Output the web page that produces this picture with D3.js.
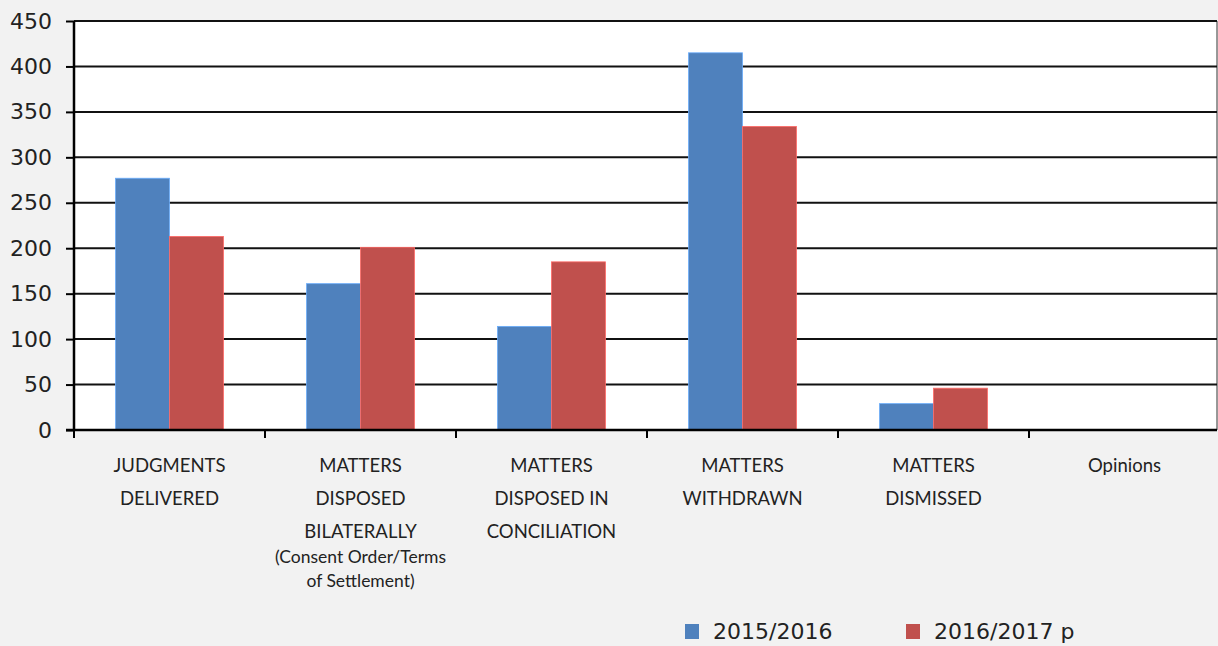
<!DOCTYPE html>
<html>
<head>
<meta charset="utf-8">
<script src="https://cdn.jsdelivr.net/npm/d3@7"></script>
<style>
  html, body { margin: 0; padding: 0; background: #f2f2f2; }
  svg { display: block; font-family: "Lato", "DejaVu Sans", sans-serif; }
</style>
</head>
<body>
<svg id="visualization"></svg>
<script>
// chart data
const categories = [
  ['JUDGMENTS', 'DELIVERED'],
  ['MATTERS', 'DISPOSED', 'BILATERALLY'],
  ['MATTERS', 'DISPOSED IN', 'CONCILIATION'],
  ['MATTERS', 'WITHDRAWN'],
  ['MATTERS', 'DISMISSED'],
  ['Opinions']
];
const subNotes = [[], ['(Consent Order/Terms', 'of Settlement)'], [], [], [], []];
const seriesNames = ['2015/2016', '2016/2017 p'];
const values2015 = [277, 161, 114, 415, 29, 0];
const values2016 = [213, 201, 185, 334, 46, 0];
const yTicks = [0, 50, 100, 150, 200, 250, 300, 350, 400, 450];
const colors = ['#4f81bd', '#c0504d'];

const width = 1218;
const height = 646;
const margin = { top: 21, right: 1, bottom: 216, left: 74 };

const svg = d3.select('#visualization')
  .attr('width', width)
  .attr('height', height);

const keys = categories.map((d, i) => i);

const xScale = d3.scaleBand()
  .domain(keys)
  .range([margin.left, margin.left + 191 * 6]);

const xInner = d3.scaleBand()
  .domain([0, 1])
  .range([0, xScale.bandwidth()])
  .paddingOuter(0.77)
  .paddingInner(0);

const yScale = d3.scaleLinear()
  .domain([0, 450])
  .range([height - margin.bottom, margin.top]);

const plotRight = width - margin.right;

// plot background
svg.append('rect')
  .attr('x', margin.left)
  .attr('y', margin.top)
  .attr('width', plotRight - margin.left)
  .attr('height', yScale(0) - margin.top)
  .attr('fill', '#fff');

svg.append('line')
  .attr('x1', plotRight).attr('x2', plotRight)
  .attr('y1', margin.top).attr('y2', yScale(0))
  .attr('stroke', '#777').attr('stroke-width', 1.5);

// gridlines
svg.append('g')
  .selectAll('line')
  .data(yTicks.filter(d => d > 0))
  .join('line')
  .attr('x1', margin.left)
  .attr('x2', plotRight)
  .attr('y1', d => yScale(d))
  .attr('y2', d => yScale(d))
  .attr('stroke', '#111')
  .attr('stroke-width', 2);

// bars
const rows = keys.map(i => [values2015[i], values2016[i]]);
svg.append('g')
  .selectAll('g')
  .data(rows)
  .join('g')
  .attr('transform', (d, i) => `translate(${xScale(i)},0)`)
  .selectAll('rect')
  .data(d => d.map((v, s) => ({ v, s })))
  .join('rect')
  .attr('x', d => xInner(d.s))
  .attr('y', d => yScale(d.v))
  .attr('width', xInner.bandwidth())
  .attr('height', d => yScale(0) - yScale(d.v))
  .attr('fill', d => colors[d.s])
  .attr('stroke', d => d3.color(colors[d.s]).brighter(0.8))
  .attr('stroke-width', 0.8);

// y axis
const yAxis = svg.append('g')
  .attr('transform', `translate(${margin.left},0)`)
  .call(d3.axisLeft(yScale).tickValues(yTicks).tickSize(8).tickPadding(14));
yAxis.select('.domain').attr('stroke', '#000').attr('stroke-width', 2.5)
  .attr('d', `M0,${margin.top}V${yScale(0)}`);
yAxis.selectAll('.tick line').attr('stroke', '#000').attr('stroke-width', 2);
yAxis.selectAll('.tick text')
  .attr('fill', '#222')
  .style('font-family', '"DejaVu Sans", sans-serif')
  .style('font-size', '22px');

// x axis
const xAxis = svg.append('g')
  .attr('transform', `translate(0,${yScale(0)})`)
  .call(d3.axisBottom(xScale).tickSize(0).tickFormat(''));
xAxis.select('.domain').attr('stroke', '#000').attr('stroke-width', 2.5)
  .attr('d', `M${margin.left - 8},0H${plotRight}`);

svg.append('g')
  .selectAll('line')
  .data(keys)
  .join('line')
  .attr('x1', d => xScale(d))
  .attr('x2', d => xScale(d))
  .attr('y1', yScale(0))
  .attr('y2', yScale(0) + 8)
  .attr('stroke', '#000')
  .attr('stroke-width', 2);

// category labels
const labels = svg.append('g')
  .selectAll('text')
  .data(keys)
  .join('text')
  .attr('text-anchor', 'middle')
  .attr('fill', '#222')
  .style('font-size', '18.5px');

labels.each(function (i) {
  const t = d3.select(this);
  const cx = xScale(i) + xScale.bandwidth() / 2;
  categories[i].forEach((line, k) => {
    t.append('tspan').attr('x', cx).attr('y', 472 + k * 33).text(line);
  });
  subNotes[i].forEach((line, k) => {
    t.append('tspan').attr('x', cx).attr('y', 563 + k * 24)
      .style('font-size', '17.5px').text(line);
  });
});

// legend
const legend = svg.append('g')
  .selectAll('g')
  .data(seriesNames)
  .join('g')
  .attr('transform', (d, i) => `translate(${685 + i * 221},624)`);

legend.append('rect')
  .attr('width', 14)
  .attr('height', 15)
  .attr('fill', (d, i) => colors[i]);

legend.append('text')
  .attr('x', 28)
  .attr('y', 15)
  .attr('fill', '#222')
  .style('font-family', '"DejaVu Sans", sans-serif')
  .style('font-size', '22px')
  .text(d => d);
</script>
</body>
</html>
